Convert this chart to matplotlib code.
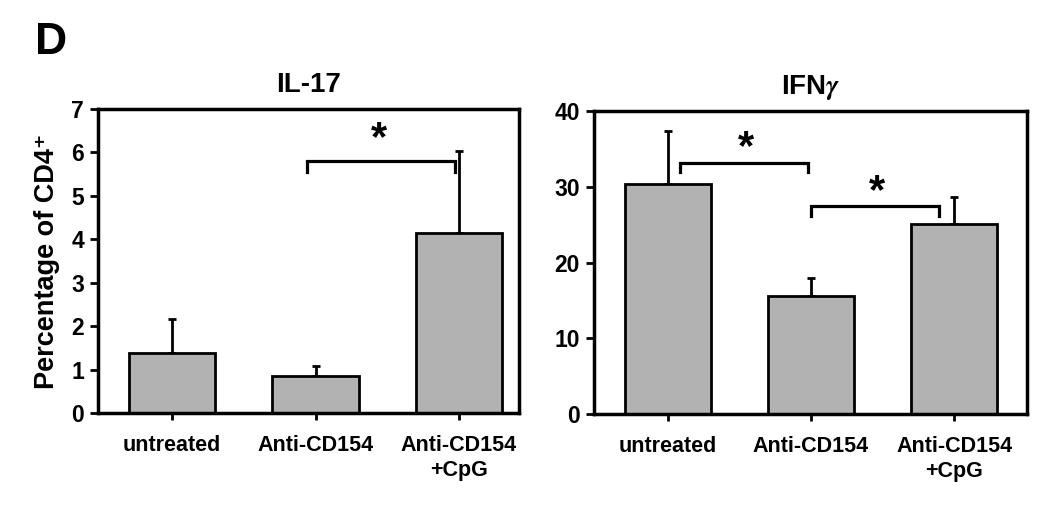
import numpy as np
import matplotlib
matplotlib.use("Agg")
import matplotlib.pyplot as plt

plt.rcParams['font.family'] = ['Liberation Sans', 'DejaVu Sans']
plt.rcParams['font.weight'] = 'bold'
plt.rcParams['mathtext.fontset'] = 'stix'

# Data
groups = ["untreated", "Anti-CD154", "Anti-CD154\n+CpG"]
il17_mean = [1.38, 0.85, 4.15]
il17_err = [0.79, 0.24, 1.88]
ifng_mean = [30.3, 15.6, 25.1]
ifng_err = [7.0, 2.3, 3.6]

# significance brackets: (x_left, x_right, y_top, y_end, star_x, star_y)
il17_sig = [(0.94, 1.97, 5.8, 5.55, 1.44, 6.4)]
ifng_sig = [(0.085, 0.98, 33.2, 32.0, 0.55, 35.7),
            (1.0, 1.89, 27.4, 26.1, 1.46, 29.9)]

bar_color = "#b2b2b2"

fig = plt.figure(figsize=(10.5, 5.13), dpi=100)
ax1 = fig.add_axes([0.0933, 0.1949, 0.401, 0.5926])
ax2 = fig.add_axes([0.5657, 0.193, 0.4124, 0.5906])


def draw_panel(ax, means, errs, sigs, ylim, yticks, title, xlim):
    x = np.arange(len(groups))
    ax.bar(x, means, width=0.6, color=bar_color, edgecolor="black", linewidth=2, zorder=2)
    ax.errorbar(x, means, yerr=[np.zeros(len(errs)), errs], fmt="none",
                ecolor="black", elinewidth=2, capsize=3, capthick=2, zorder=1)
    for xl, xr, yt, ye, sx, sy in sigs:
        ax.plot([xl, xl, xr, xr], [ye, yt, yt, ye], color="black", lw=2.3,
                solid_joinstyle="miter", zorder=3)
        ax.text(sx, sy, "*", ha="center", va="center_baseline", fontsize=30, fontweight="bold")
    ax.set_xlim(*xlim)
    ax.set_ylim(*ylim)
    ax.set_yticks(yticks)
    ax.set_xticks(x)
    ax.set_xticklabels(groups, fontsize=15.5, fontweight="bold", linespacing=1.25)
    ax.tick_params(axis="y", labelsize=16.5, width=2, length=6, pad=4)
    ax.tick_params(axis="x", width=2, length=5, pad=11)
    for lab in ax.get_yticklabels():
        lab.set_fontweight("bold")
    for sp in ax.spines.values():
        sp.set_linewidth(2.5)
    ax.set_title(title, fontsize=20, fontweight="bold", pad=12)


draw_panel(ax1, il17_mean, il17_err, il17_sig, (0, 7), range(0, 8), "IL-17", (-0.516, 2.418))
draw_panel(ax2, ifng_mean, ifng_err, ifng_sig, (0, 40), range(0, 41, 10), "IFN$\\gamma$", (-0.514, 2.507))

ax1.set_ylabel("Percentage of CD4\u207a", fontsize=19.5, fontweight="bold", labelpad=8)
fig.text(0.033, 0.918, "D", fontsize=32, fontweight="bold", ha="left", va="center")

fig.savefig("out.png", dpi=100)
